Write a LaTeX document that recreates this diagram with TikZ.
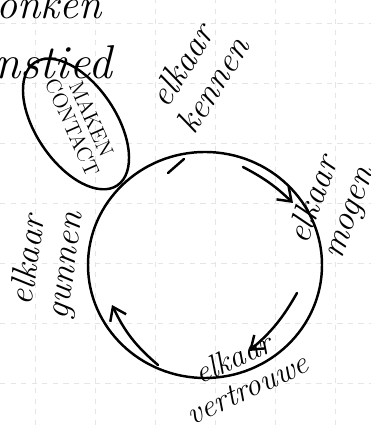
\documentclass[tikz,border=0pt]{standalone}
\usetikzlibrary{arrows.meta}
\begin{document}
\begin{tikzpicture}[x=0.02cm,y=0.02cm,
  hand/.style={align=center,inner sep=0pt,font=\fontsize{20}{21}\selectfont\itshape},
  pen/.style={line width=1.4pt,line cap=round},
  pijl/.style={pen,-{Straight Barb[length=7pt,width=10pt]}},
  raster/.style={gray!20,dashed,line width=0.5pt}]
\useasboundingbox (0,0) rectangle (371,425);
% notebook grid
\foreach \gy in {42,102,...,405} \draw[raster] (0,\gy)--(371,\gy);
\foreach \gx in {35,95,...,335} \draw[raster] (\gx,0)--(\gx,425);
% text cut off at the top left
\node[hand,anchor=base west,font=\fontsize{24}{24}\selectfont\itshape] (regel1) at (-4,406) {onken};
\node[hand,anchor=base west,font=\fontsize{27}{27}\selectfont\itshape] (regel2) at (-6,346) {nstied};
% contact ellipse
\draw[pen] (76,301) ellipse [x radius=74,y radius=40,rotate=-56];
\node[align=center,inner sep=0pt,rotate=-66,font=\fontsize{12}{12}\selectfont] (contact) at (82,302) {MAKEN\\CONTACT};
% cycle
\draw[pen] (205,160) ellipse [x radius=117,y radius=113];
\draw[pen] (168,252)--(184,266);
\node[hand,rotate=58] (kennen) at (197,350) {elkaar\\kennen};
\node[hand,rotate=70] (mogen) at (332,218) {elkaar\\mogen};
\node[hand,rotate=82] (gunnen) at (48,162) {elkaar\\gunnen};
\node[hand,rotate=25,font=\fontsize{18}{19}\selectfont\itshape] (vertrouwe) at (240,52) {elkaar\\vertrouwe};
\draw[pijl] (243,258) to[bend left=8] (293,222);
\draw[pijl] (297,132) to[bend left=10] (249,74);
\draw[pijl] (158,60) to[bend left=12] (112,120);
\end{tikzpicture}
\end{document}
